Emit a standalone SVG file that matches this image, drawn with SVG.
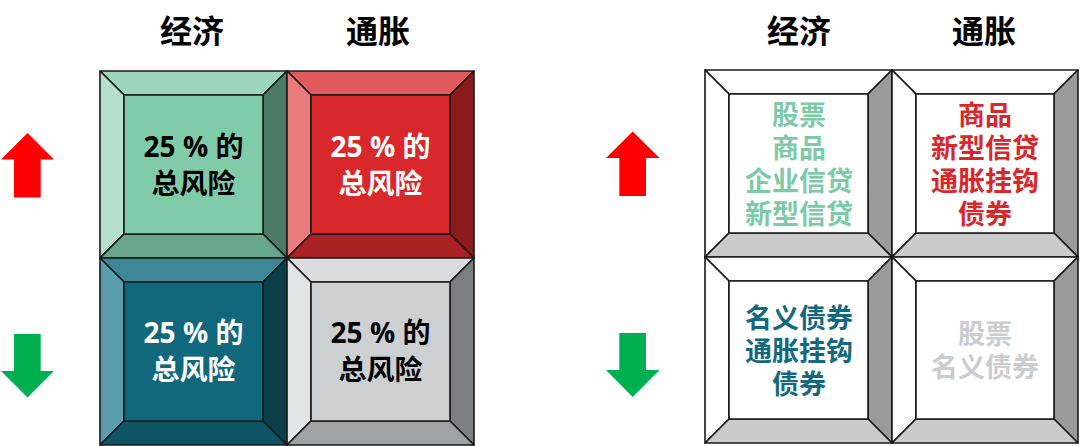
<svg xmlns="http://www.w3.org/2000/svg" width="1080" height="446" viewBox="0 0 1080 446">
<style>
.b{stroke:#1a1a1a;stroke-width:1.6;stroke-linejoin:round}
.t{font-family:"Open Sans","Noto Sans CJK SC",sans-serif;font-weight:bold;text-anchor:middle}
.h{font-size:32px;fill:#000}
.c{font-size:28px}
.r{font-size:27px}
</style>
<rect width="1080" height="446" fill="#ffffff"/>

<g id="header-left">
<text class="t h" x="192" y="43">经济</text>
<text class="t h" x="378" y="43">通胀</text>
</g>
<g id="header-right">
<text class="t h" x="799" y="43">经济</text>
<text class="t h" x="984" y="43">通胀</text>
</g>

<g id="arrows">
<polygon id="arrow-up-left" points="27.5,133 54,159.5 40.7,159.5 40.7,197.5 14,197.5 14,159.5 1,159.5" fill="#ff0000"/>
<polygon id="arrow-down-left" points="14,334 40.7,334 40.7,371 54,371 27.5,397.5 1,371 14,371" fill="#00b050"/>
<polygon id="arrow-up-right" points="632.7,131.5 659.5,158 646,158 646,196 619.3,196 619.3,158 606,158" fill="#ff0000"/>
<polygon id="arrow-down-right" points="619.3,333 646,333 646,370 659.5,370 632.7,397 606,370 619.3,370" fill="#00b050"/>
</g>

<!-- Left grid -->
<g id="cell-econ-up">
<polygon class="b" fill="#9ed6bd" points="100,71 287,71 263,95 124,95"/>
<polygon class="b" fill="#b4e0cc" points="100,71 124,95 124,234 100,258"/>
<polygon class="b" fill="#4b7b67" points="287,71 287,258 263,234 263,95"/>
<polygon class="b" fill="#67a689" points="100,258 287,258 263,234 124,234"/>
<rect class="b" fill="#80cba9" x="124" y="95" width="139" height="139"/>
<text class="t c" fill="#000" x="193.5" y="157">25 % 的</text>
<text class="t c" fill="#000" x="193.5" y="194">总风险</text>
</g>

<g id="cell-infl-up">
<polygon class="b" fill="#e05a5b" points="287,71 474,71 450,95 311,95"/>
<polygon class="b" fill="#e87c7d" points="287,71 311,95 311,234 287,258"/>
<polygon class="b" fill="#8a1a1c" points="474,71 474,258 450,234 450,95"/>
<polygon class="b" fill="#aa2124" points="287,258 474,258 450,234 311,234"/>
<rect class="b" fill="#d9282b" x="311" y="95" width="139" height="139"/>
<text class="t c" fill="#fff" x="380.5" y="157">25 % 的</text>
<text class="t c" fill="#fff" x="380.5" y="194">总风险</text>
</g>

<g id="cell-econ-down">
<polygon class="b" fill="#3d8698" points="100,258 287,258 263,282 124,282"/>
<polygon class="b" fill="#5c9dad" points="100,258 124,282 124,421 100,445"/>
<polygon class="b" fill="#0b3f4c" points="287,258 287,445 263,421 263,282"/>
<polygon class="b" fill="#0e5464" points="100,445 287,445 263,421 124,421"/>
<rect class="b" fill="#11687d" x="124" y="282" width="139" height="139"/>
<text class="t c" fill="#fff" x="193.5" y="343">25 % 的</text>
<text class="t c" fill="#fff" x="193.5" y="380">总风险</text>
</g>

<g id="cell-infl-down">
<polygon class="b" fill="#dadcdf" points="287,258 474,258 450,282 311,282"/>
<polygon class="b" fill="#e2e4e6" points="287,258 311,282 311,421 287,445"/>
<polygon class="b" fill="#7c7f82" points="474,258 474,445 450,421 450,282"/>
<polygon class="b" fill="#a0a3a6" points="287,445 474,445 450,421 311,421"/>
<rect class="b" fill="#cdd0d3" x="311" y="282" width="139" height="139"/>
<text class="t c" fill="#000" x="380.5" y="343">25 % 的</text>
<text class="t c" fill="#000" x="380.5" y="380">总风险</text>
</g>

<!-- Right grid -->
<g id="asset-econ-up">
<polygon class="b" fill="#ffffff" points="705,70 892,70 868,94 729,94"/>
<polygon class="b" fill="#ffffff" points="705,70 729,94 729,233 705,257"/>
<polygon class="b" fill="#9a9a9a" points="892,70 892,257 868,233 868,94"/>
<polygon class="b" fill="#cbcbcb" points="705,257 892,257 868,233 729,233"/>
<rect class="b" fill="#ffffff" x="729" y="94" width="139" height="139"/>
<g class="t r" fill="#7ecaa7">
<text x="799" y="125">股票</text>
<text x="799" y="158">商品</text>
<text x="799" y="191">企业信贷</text>
<text x="799" y="224">新型信贷</text>
</g>
</g>

<g id="asset-infl-up">
<polygon class="b" fill="#ffffff" points="892,70 1078,70 1054,94 916,94"/>
<polygon class="b" fill="#ffffff" points="892,70 916,94 916,233 892,257"/>
<polygon class="b" fill="#9a9a9a" points="1078,70 1078,257 1054,233 1054,94"/>
<polygon class="b" fill="#cbcbcb" points="892,257 1078,257 1054,233 916,233"/>
<rect class="b" fill="#ffffff" x="916" y="94" width="138" height="139"/>
<g class="t r" fill="#d9282b">
<text x="985" y="125">商品</text>
<text x="985" y="158">新型信贷</text>
<text x="985" y="191">通胀挂钩</text>
<text x="985" y="224">债券</text>
</g>
</g>

<g id="asset-econ-down">
<polygon class="b" fill="#ffffff" points="705,257 892,257 868,281 729,281"/>
<polygon class="b" fill="#ffffff" points="705,257 729,281 729,419 705,443"/>
<polygon class="b" fill="#9a9a9a" points="892,257 892,443 868,419 868,281"/>
<polygon class="b" fill="#cbcbcb" points="705,443 892,443 868,419 729,419"/>
<rect class="b" fill="#ffffff" x="729" y="281" width="139" height="138"/>
<g class="t r" fill="#15697e">
<text x="799" y="328">名义债券</text>
<text x="799" y="361">通胀挂钩</text>
<text x="799" y="394">债券</text>
</g>
</g>

<g id="asset-infl-down">
<polygon class="b" fill="#ffffff" points="892,257 1078,257 1054,281 916,281"/>
<polygon class="b" fill="#ffffff" points="892,257 916,281 916,419 892,443"/>
<polygon class="b" fill="#9a9a9a" points="1078,257 1078,443 1054,419 1054,281"/>
<polygon class="b" fill="#cbcbcb" points="892,443 1078,443 1054,419 916,419"/>
<rect class="b" fill="#ffffff" x="916" y="281" width="138" height="138"/>
<g class="t r" fill="#cacdd0">
<text x="985" y="344">股票</text>
<text x="985" y="377">名义债券</text>
</g>
</g>
</svg>
